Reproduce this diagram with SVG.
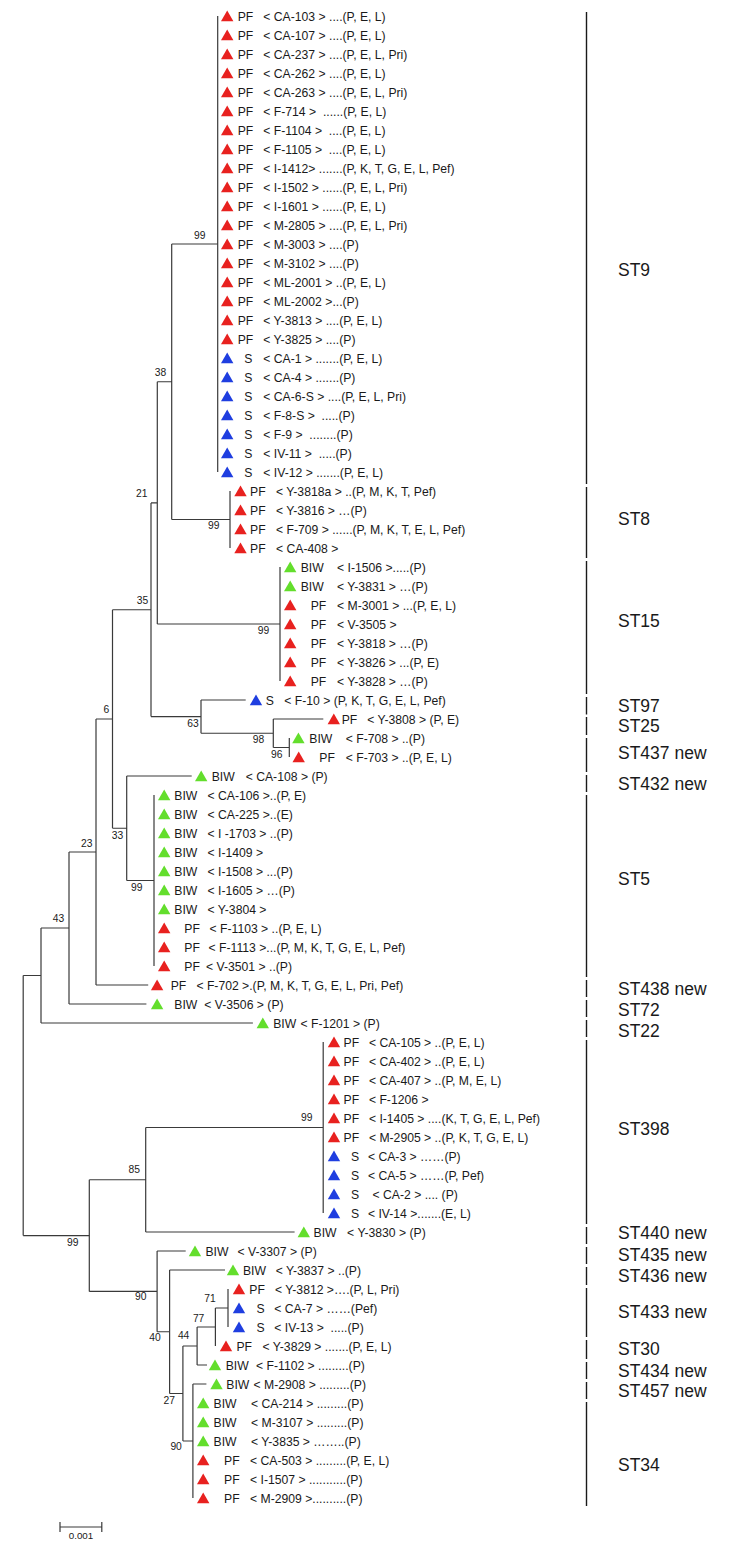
<svg xmlns="http://www.w3.org/2000/svg" width="750" height="1554" viewBox="0 0 750 1554" xml:space="preserve">
<style>
text{font-family:"Liberation Sans",Arial,sans-serif;font-size:12.2px;fill:#1a1a1a;white-space:pre}
.b{font-size:10.3px}
.st{font-size:17.5px}
.sc{font-size:9.8px}
.r{fill:#e8211f}
.bl{fill:#1f3ee0}
.g{fill:#63de2c}
.ln{stroke:#3a3a3a;stroke-width:1.2;fill:none}
.br{stroke:#1a1a1a;stroke-width:1.4;fill:none}
</style>
<defs>
<path id="tri" d="M0,-5.6 L6.2,5.2 L-6.2,5.2 Z"/>
</defs>
<rect width="750" height="1554" fill="#ffffff"/>
<g id="connectors" class="ln">
<path d="M217.7,16V472 M171.7,244H217.7 M171.7,244V519.5 M171.7,519.5H230 M230,491V548 M157.3,381.75H171.7 M157.3,381.75V624 M157.3,624H280 M280,567V681 M151,502.9H157.3 M151,502.9V716.6 M151,716.6H201 M201,700V733.25 M201,700H245.7 M201,733.25H273.3 M273.3,719V747.5 M273.3,719H323.3 M273.3,747.5H289.3 M289.3,738V757"/>
<path d="M112.5,609.75H151 M112.5,609.75V828.25 M112.5,828.25H126.7 M126.7,776V880.5 M126.7,776H191.7 M126.7,880.5H154 M154,795V966 M96,719H112.5 M96,719V985 M96,985H148.2 M69,852H96 M69,852V1004 M69,1004H146.4 M41,928H69 M41,928V1023 M41,1023H252.9 M23.2,975.5H41 M23.2,975.5V1235.6 M23.2,1235.6H89.3"/>
<path d="M89.3,1179.75V1291.4 M89.3,1179.75H145.7 M145.7,1127.5V1232 M145.7,1127.5H323.2 M323.2,1042V1213 M145.7,1232H294.6 M89.3,1291.4H157.1 M157.1,1251V1331.75 M157.1,1251H185.7 M157.1,1331.75H169.6 M169.6,1270V1393.5 M169.6,1270H225 M169.6,1393.5H182.9 M182.9,1346V1441 M182.9,1346H197.1 M197.1,1327V1365 M197.1,1365H207 M197.1,1327H215.4 M215.4,1308V1346 M215.4,1308H228 M228,1289V1327 M182.9,1441H192.9 M192.9,1384V1498 M192.9,1384H206.4"/>
</g>
<g id="bootstrap">
<text class="b" x="194" y="239">99</text>
<text class="b" x="154.7" y="376">38</text>
<text class="b" x="136" y="496.6">21</text>
<text class="b" x="208" y="528.5">99</text>
<text class="b" x="136.7" y="604">35</text>
<text class="b" x="257.7" y="634">99</text>
<text class="b" x="103.5" y="712.5">6</text>
<text class="b" x="187.3" y="726.5">63</text>
<text class="b" x="252.7" y="743">98</text>
<text class="b" x="271" y="757.5">96</text>
<text class="b" x="111.7" y="838.5">33</text>
<text class="b" x="131" y="890.5">99</text>
<text class="b" x="81" y="846.5">23</text>
<text class="b" x="52.7" y="922">43</text>
<text class="b" x="301" y="1121">99</text>
<text class="b" x="128.6" y="1173.3">85</text>
<text class="b" x="67" y="1245.5">99</text>
<text class="b" x="135" y="1300">90</text>
<text class="b" x="204.3" y="1301.5">71</text>
<text class="b" x="192.9" y="1321.5">77</text>
<text class="b" x="177.9" y="1338.7">44</text>
<text class="b" x="149.3" y="1341">40</text>
<text class="b" x="163.6" y="1404">27</text>
<text class="b" x="170.4" y="1450">90</text>
</g>
<g id="leaves">
<g id="n0"><use href="#tri" x="227.2" y="16" class="r"/><text x="237.7" y="20.5">PF</text><text x="263.3" y="20.5">&lt; CA-103 &gt; ....(P, E, L)</text></g>
<g id="n1"><use href="#tri" x="227.2" y="35" class="r"/><text x="237.7" y="39.5">PF</text><text x="263.3" y="39.5">&lt; CA-107 &gt; ....(P, E, L)</text></g>
<g id="n2"><use href="#tri" x="227.2" y="54" class="r"/><text x="237.7" y="58.5">PF</text><text x="263.3" y="58.5">&lt; CA-237 &gt; ....(P, E, L, Pri)</text></g>
<g id="n3"><use href="#tri" x="227.2" y="73" class="r"/><text x="237.7" y="77.5">PF</text><text x="263.3" y="77.5">&lt; CA-262 &gt; ....(P, E, L)</text></g>
<g id="n4"><use href="#tri" x="227.2" y="92" class="r"/><text x="237.7" y="96.5">PF</text><text x="263.3" y="96.5">&lt; CA-263 &gt; ....(P, E, L, Pri)</text></g>
<g id="n5"><use href="#tri" x="227.2" y="111" class="r"/><text x="237.7" y="115.5">PF</text><text x="263.3" y="115.5">&lt; F-714 &gt;  ......(P, E, L)</text></g>
<g id="n6"><use href="#tri" x="227.2" y="130" class="r"/><text x="237.7" y="134.5">PF</text><text x="263.3" y="134.5">&lt; F-1104 &gt;  ....(P, E, L)</text></g>
<g id="n7"><use href="#tri" x="227.2" y="149" class="r"/><text x="237.7" y="153.5">PF</text><text x="263.3" y="153.5">&lt; F-1105 &gt;  ....(P, E, L)</text></g>
<g id="n8"><use href="#tri" x="227.2" y="168" class="r"/><text x="237.7" y="172.5">PF</text><text x="263.3" y="172.5">&lt; I-1412&gt; .......(P, K, T, G, E, L, Pef)</text></g>
<g id="n9"><use href="#tri" x="227.2" y="187" class="r"/><text x="237.7" y="191.5">PF</text><text x="263.3" y="191.5">&lt; I-1502 &gt; ......(P, E, L, Pri)</text></g>
<g id="n10"><use href="#tri" x="227.2" y="206" class="r"/><text x="237.7" y="210.5">PF</text><text x="263.3" y="210.5">&lt; I-1601 &gt; ......(P, E, L)</text></g>
<g id="n11"><use href="#tri" x="227.2" y="225" class="r"/><text x="237.7" y="229.5">PF</text><text x="263.3" y="229.5">&lt; M-2805 &gt; ....(P, E, L, Pri)</text></g>
<g id="n12"><use href="#tri" x="227.2" y="244" class="r"/><text x="237.7" y="248.5">PF</text><text x="263.3" y="248.5">&lt; M-3003 &gt; ....(P)</text></g>
<g id="n13"><use href="#tri" x="227.2" y="263" class="r"/><text x="237.7" y="267.5">PF</text><text x="263.3" y="267.5">&lt; M-3102 &gt; ....(P)</text></g>
<g id="n14"><use href="#tri" x="227.2" y="282" class="r"/><text x="237.7" y="286.5">PF</text><text x="263.3" y="286.5">&lt; ML-2001 &gt; ..(P, E, L)</text></g>
<g id="n15"><use href="#tri" x="227.2" y="301" class="r"/><text x="237.7" y="305.5">PF</text><text x="263.3" y="305.5">&lt; ML-2002 &gt;...(P)</text></g>
<g id="n16"><use href="#tri" x="227.2" y="320" class="r"/><text x="237.7" y="324.5">PF</text><text x="263.3" y="324.5">&lt; Y-3813 &gt; ....(P, E, L)</text></g>
<g id="n17"><use href="#tri" x="227.2" y="339" class="r"/><text x="237.7" y="343.5">PF</text><text x="263.3" y="343.5">&lt; Y-3825 &gt; ....(P)</text></g>
<g id="n18"><use href="#tri" x="227.2" y="358" class="bl"/><text x="244.3" y="362.5">S</text><text x="263.3" y="362.5">&lt; CA-1 &gt; .......(P, E, L)</text></g>
<g id="n19"><use href="#tri" x="227.2" y="377" class="bl"/><text x="244.3" y="381.5">S</text><text x="263.3" y="381.5">&lt; CA-4 &gt; .......(P)</text></g>
<g id="n20"><use href="#tri" x="227.2" y="396" class="bl"/><text x="244.3" y="400.5">S</text><text x="263.3" y="400.5">&lt; CA-6-S &gt; ....(P, E, L, Pri)</text></g>
<g id="n21"><use href="#tri" x="227.2" y="415" class="bl"/><text x="244.3" y="419.5">S</text><text x="263.3" y="419.5">&lt; F-8-S &gt;  .....(P)</text></g>
<g id="n22"><use href="#tri" x="227.2" y="434" class="bl"/><text x="244.3" y="438.5">S</text><text x="263.3" y="438.5">&lt; F-9 &gt;  ........(P)</text></g>
<g id="n23"><use href="#tri" x="227.2" y="453" class="bl"/><text x="244.3" y="457.5">S</text><text x="263.3" y="457.5">&lt; IV-11 &gt;  .....(P)</text></g>
<g id="n24"><use href="#tri" x="227.2" y="472" class="bl"/><text x="244.3" y="476.5">S</text><text x="263.3" y="476.5">&lt; IV-12 &gt; .......(P, E, L)</text></g>
<g id="n25"><use href="#tri" x="240.5" y="491" class="r"/><text x="250" y="495.5">PF</text><text x="276" y="495.5">&lt; Y-3818a &gt; ..(P, M, K, T, Pef)</text></g>
<g id="n26"><use href="#tri" x="240.5" y="510" class="r"/><text x="250" y="514.5">PF</text><text x="276" y="514.5">&lt; Y-3816 &gt; …(P)</text></g>
<g id="n27"><use href="#tri" x="240.5" y="529" class="r"/><text x="250" y="533.5">PF</text><text x="276" y="533.5">&lt; F-709 &gt; ......(P, M, K, T, E, L, Pef)</text></g>
<g id="n28"><use href="#tri" x="240.5" y="548" class="r"/><text x="250" y="552.5">PF</text><text x="276" y="552.5">&lt; CA-408 &gt;</text></g>
<g id="n29"><use href="#tri" x="290.2" y="567" class="g"/><text x="300.7" y="571.5">BIW</text><text x="337" y="571.5">&lt; I-1506 &gt;.....(P)</text></g>
<g id="n30"><use href="#tri" x="290.2" y="586" class="g"/><text x="300.7" y="590.5">BIW</text><text x="337" y="590.5">&lt; Y-3831 &gt; …(P)</text></g>
<g id="n31"><use href="#tri" x="290.2" y="605" class="r"/><text x="310.7" y="609.5">PF</text><text x="337" y="609.5">&lt; M-3001 &gt; ...(P, E, L)</text></g>
<g id="n32"><use href="#tri" x="290.2" y="624" class="r"/><text x="310.7" y="628.5">PF</text><text x="337" y="628.5">&lt; V-3505 &gt;</text></g>
<g id="n33"><use href="#tri" x="290.2" y="643" class="r"/><text x="310.7" y="647.5">PF</text><text x="337" y="647.5">&lt; Y-3818 &gt; …(P)</text></g>
<g id="n34"><use href="#tri" x="290.2" y="662" class="r"/><text x="310.7" y="666.5">PF</text><text x="337" y="666.5">&lt; Y-3826 &gt; ...(P, E)</text></g>
<g id="n35"><use href="#tri" x="290.2" y="681" class="r"/><text x="310.7" y="685.5">PF</text><text x="337" y="685.5">&lt; Y-3828 &gt; …(P)</text></g>
<g id="n36"><use href="#tri" x="256" y="700" class="bl"/><text x="265.7" y="704.5">S</text><text x="284.3" y="704.5">&lt; F-10 &gt; (P, K, T, G, E, L, Pef)</text></g>
<g id="n37"><use href="#tri" x="333.8" y="719" class="r"/><text x="341.7" y="723.5">PF</text><text x="367.2" y="723.5">&lt; Y-3808 &gt; (P, E)</text></g>
<g id="n38"><use href="#tri" x="298.4" y="738" class="g"/><text x="309.3" y="742.5">BIW</text><text x="345.7" y="742.5">&lt; F-708 &gt; ..(P)</text></g>
<g id="n39"><use href="#tri" x="298.7" y="757" class="r"/><text x="319.3" y="761.5">PF</text><text x="345.7" y="761.5">&lt; F-703 &gt; ..(P, E, L)</text></g>
<g id="n40"><use href="#tri" x="201.2" y="776" class="g"/><text x="211.7" y="780.5">BIW</text><text x="245.7" y="780.5">&lt; CA-108 &gt; (P)</text></g>
<g id="n41"><use href="#tri" x="164.2" y="795" class="g"/><text x="174.3" y="799.5">BIW</text><text x="207.5" y="799.5">&lt; CA-106 &gt;..(P, E)</text></g>
<g id="n42"><use href="#tri" x="164.2" y="814" class="g"/><text x="174.3" y="818.5">BIW</text><text x="207.5" y="818.5">&lt; CA-225 &gt;..(E)</text></g>
<g id="n43"><use href="#tri" x="164.2" y="833" class="g"/><text x="174.3" y="837.5">BIW</text><text x="207.5" y="837.5">&lt; I -1703 &gt; ..(P)</text></g>
<g id="n44"><use href="#tri" x="164.2" y="852" class="g"/><text x="174.3" y="856.5">BIW</text><text x="207.5" y="856.5">&lt; I-1409 &gt;</text></g>
<g id="n45"><use href="#tri" x="164.2" y="871" class="g"/><text x="174.3" y="875.5">BIW</text><text x="207.5" y="875.5">&lt; I-1508 &gt; ...(P)</text></g>
<g id="n46"><use href="#tri" x="164.2" y="890" class="g"/><text x="174.3" y="894.5">BIW</text><text x="207.5" y="894.5">&lt; I-1605 &gt; …(P)</text></g>
<g id="n47"><use href="#tri" x="164.2" y="909" class="g"/><text x="174.3" y="913.5">BIW</text><text x="207.5" y="913.5">&lt; Y-3804 &gt;</text></g>
<g id="n48"><use href="#tri" x="164.2" y="928" class="r"/><text x="184.3" y="932.5">PF</text><text x="209.5" y="932.5">&lt; F-1103 &gt; ..(P, E, L)</text></g>
<g id="n49"><use href="#tri" x="164.2" y="947" class="r"/><text x="184.3" y="951.5">PF</text><text x="208.5" y="951.5">&lt; F-1113 &gt;...(P, M, K, T, G, E, L, Pef)</text></g>
<g id="n50"><use href="#tri" x="164.2" y="966" class="r"/><text x="184.3" y="970.5">PF</text><text x="206" y="970.5">&lt; V-3501 &gt; ..(P)</text></g>
<g id="n51"><use href="#tri" x="157.1" y="985" class="r"/><text x="170.7" y="989.5">PF</text><text x="196.4" y="989.5">&lt; F-702 &gt;.(P, M, K, T, G, E, L, Pri, Pef)</text></g>
<g id="n52"><use href="#tri" x="157.1" y="1004" class="g"/><text x="174.3" y="1008.5">BIW</text><text x="204.3" y="1008.5">&lt; V-3506 &gt; (P)</text></g>
<g id="n53"><use href="#tri" x="262.8" y="1023" class="g"/><text x="273.2" y="1027.5">BIW</text><text x="300.5" y="1027.5">&lt; F-1201 &gt; (P)</text></g>
<g id="n54"><use href="#tri" x="334" y="1042" class="r"/><text x="343.6" y="1046.5">PF</text><text x="368.9" y="1046.5">&lt; CA-105 &gt; ..(P, E, L)</text></g>
<g id="n55"><use href="#tri" x="334" y="1061" class="r"/><text x="343.6" y="1065.5">PF</text><text x="368.9" y="1065.5">&lt; CA-402 &gt; ..(P, E, L)</text></g>
<g id="n56"><use href="#tri" x="334" y="1080" class="r"/><text x="343.6" y="1084.5">PF</text><text x="368.9" y="1084.5">&lt; CA-407 &gt; ..(P, M, E, L)</text></g>
<g id="n57"><use href="#tri" x="334" y="1099" class="r"/><text x="343.6" y="1103.5">PF</text><text x="368.9" y="1103.5">&lt; F-1206 &gt;</text></g>
<g id="n58"><use href="#tri" x="334" y="1118" class="r"/><text x="343.6" y="1122.5">PF</text><text x="368.9" y="1122.5">&lt; I-1405 &gt; ....(K, T, G, E, L, Pef)</text></g>
<g id="n59"><use href="#tri" x="334" y="1137" class="r"/><text x="343.6" y="1141.5">PF</text><text x="368.9" y="1141.5">&lt; M-2905 &gt; ..(P, K, T, G, E, L)</text></g>
<g id="n60"><use href="#tri" x="334" y="1156" class="bl"/><text x="351" y="1160.5">S</text><text x="367.9" y="1160.5">&lt; CA-3 &gt; ……(P)</text></g>
<g id="n61"><use href="#tri" x="334" y="1175" class="bl"/><text x="351" y="1179.5">S</text><text x="367.9" y="1179.5">&lt; CA-5 &gt; ……(P, Pef)</text></g>
<g id="n62"><use href="#tri" x="334" y="1194" class="bl"/><text x="351" y="1198.5">S</text><text x="372.5" y="1198.5">&lt; CA-2 &gt; .... (P)</text></g>
<g id="n63"><use href="#tri" x="334" y="1213" class="bl"/><text x="351" y="1217.5">S</text><text x="367.9" y="1217.5">&lt; IV-14 &gt;.......(E, L)</text></g>
<g id="n64"><use href="#tri" x="303.8" y="1232" class="g"/><text x="313.6" y="1236.5">BIW</text><text x="347.1" y="1236.5">&lt; Y-3830 &gt; (P)</text></g>
<g id="n65"><use href="#tri" x="195" y="1251" class="g"/><text x="205.4" y="1255.5">BIW</text><text x="237.5" y="1255.5">&lt; V-3307 &gt; (P)</text></g>
<g id="n66"><use href="#tri" x="233" y="1270" class="g"/><text x="242.9" y="1274.5">BIW</text><text x="275.7" y="1274.5">&lt; Y-3837 &gt; ..(P)</text></g>
<g id="n67"><use href="#tri" x="239" y="1289" class="r"/><text x="249.3" y="1293.5">PF</text><text x="275" y="1293.5">&lt; Y-3812 &gt;….(P, L, Pri)</text></g>
<g id="n68"><use href="#tri" x="239" y="1308" class="bl"/><text x="256.4" y="1312.5">S</text><text x="274.3" y="1312.5">&lt; CA-7 &gt; ……(Pef)</text></g>
<g id="n69"><use href="#tri" x="239" y="1327" class="bl"/><text x="256.4" y="1331.5">S</text><text x="274.3" y="1331.5">&lt; IV-13 &gt;  .....(P)</text></g>
<g id="n70"><use href="#tri" x="226" y="1346" class="r"/><text x="236.4" y="1350.5">PF</text><text x="262.5" y="1350.5">&lt; Y-3829 &gt; .......(P, E, L)</text></g>
<g id="n71"><use href="#tri" x="215" y="1365" class="g"/><text x="225.7" y="1369.5">BIW</text><text x="256" y="1369.5">&lt; F-1102 &gt; .........(P)</text></g>
<g id="n72"><use href="#tri" x="216.5" y="1384" class="g"/><text x="226.3" y="1388.5">BIW</text><text x="253.5" y="1388.5">&lt; M-2908 &gt; .........(P)</text></g>
<g id="n73"><use href="#tri" x="203.2" y="1403" class="g"/><text x="213.6" y="1407.5">BIW</text><text x="251" y="1407.5">&lt; CA-214 &gt; .........(P)</text></g>
<g id="n74"><use href="#tri" x="203.2" y="1422" class="g"/><text x="213.6" y="1426.5">BIW</text><text x="251" y="1426.5">&lt; M-3107 &gt; .........(P)</text></g>
<g id="n75"><use href="#tri" x="203.2" y="1441" class="g"/><text x="213.6" y="1445.5">BIW</text><text x="251" y="1445.5">&lt; Y-3835 &gt; ……..(P)</text></g>
<g id="n76"><use href="#tri" x="203.2" y="1460" class="r"/><text x="224" y="1464.5">PF</text><text x="250" y="1464.5">&lt; CA-503 &gt; .........(P, E, L)</text></g>
<g id="n77"><use href="#tri" x="203.2" y="1479" class="r"/><text x="224" y="1483.5">PF</text><text x="250" y="1483.5">&lt; I-1507 &gt; ...........(P)</text></g>
<g id="n78"><use href="#tri" x="203.2" y="1498" class="r"/><text x="224" y="1502.5">PF</text><text x="250" y="1502.5">&lt; M-2909 &gt;..........(P)</text></g>
</g>
<g id="groups">
<g id="ST9"><path class="br" d="M586.5,12V484"/><text class="st" x="618" y="276">ST9</text></g>
<g id="ST8"><path class="br" d="M586.5,487V558"/><text class="st" x="618" y="525">ST8</text></g>
<g id="ST15"><path class="br" d="M586.5,561V694"/><text class="st" x="618" y="626.7">ST15</text></g>
<g id="ST97"><path class="br" d="M586.5,697V714.5"/><text class="st" x="618" y="711.7">ST97</text></g>
<g id="ST25"><path class="br" d="M586.5,717V735"/><text class="st" x="618" y="732.3">ST25</text></g>
<g id="ST437"><path class="br" d="M586.5,738V772"/><text class="st" x="618" y="759.3">ST437 new</text></g>
<g id="ST432"><path class="br" d="M586.5,775V792"/><text class="st" x="618" y="790">ST432 new</text></g>
<g id="ST5"><path class="br" d="M586.5,795V977"/><text class="st" x="618" y="885">ST5</text></g>
<g id="ST438"><path class="br" d="M586.5,980V997"/><text class="st" x="618" y="995">ST438 new</text></g>
<g id="ST72"><path class="br" d="M586.5,1000V1017"/><text class="st" x="618" y="1016">ST72</text></g>
<g id="ST22"><path class="br" d="M586.5,1020V1037"/><text class="st" x="618" y="1036.7">ST22</text></g>
<g id="ST398"><path class="br" d="M586.5,1040V1224"/><text class="st" x="618" y="1135">ST398</text></g>
<g id="ST440"><path class="br" d="M586.5,1227V1244"/><text class="st" x="618" y="1239.3">ST440 new</text></g>
<g id="ST435"><path class="br" d="M586.5,1247V1264"/><text class="st" x="618" y="1261">ST435 new</text></g>
<g id="ST436"><path class="br" d="M586.5,1267V1285"/><text class="st" x="618" y="1281.7">ST436 new</text></g>
<g id="ST433"><path class="br" d="M586.5,1288V1337"/><text class="st" x="618" y="1318.3">ST433 new</text></g>
<g id="ST30"><path class="br" d="M586.5,1340V1359"/><text class="st" x="618" y="1355">ST30</text></g>
<g id="ST434"><path class="br" d="M586.5,1362V1379"/><text class="st" x="618" y="1376.7">ST434 new</text></g>
<g id="ST457"><path class="br" d="M586.5,1382V1399"/><text class="st" x="618" y="1396.7">ST457 new</text></g>
<g id="ST34"><path class="br" d="M586.5,1402V1506"/><text class="st" x="618" y="1471">ST34</text></g>
</g>
<g id="scalebar">
<path class="ln" d="M60,1527H101.8 M60,1522V1532 M101.8,1522V1532"/>
<text class="sc" x="81" y="1538.5" text-anchor="middle">0.001</text>
</g>
</svg>
